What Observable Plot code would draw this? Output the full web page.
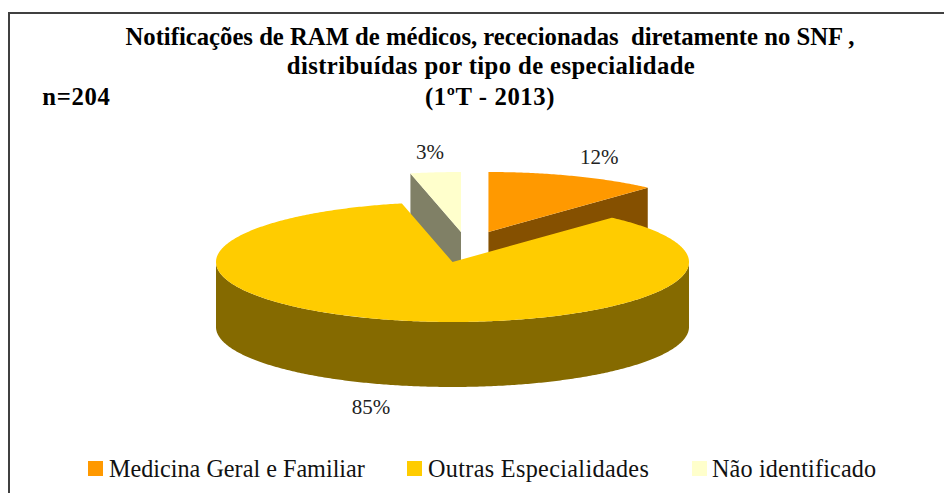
<!DOCTYPE html>
<html><head><meta charset="utf-8">
<script src="https://cdn.jsdelivr.net/npm/d3@7"></script>
<script src="https://cdn.jsdelivr.net/npm/@observablehq/plot@0.6"></script>
<style>
html,body{margin:0;padding:0;background:#fff;overflow:hidden}
#page{position:relative;width:944px;height:493px;overflow:hidden;font-family:"Liberation Serif",serif;color:#000}
#frame{position:absolute;left:8px;top:12px;width:940px;height:490px;border:2px solid #404040;box-sizing:border-box}
#chart{position:absolute;left:0;top:0}
.t{position:absolute;white-space:pre;font-weight:bold;font-size:24.7px;line-height:28px;transform:translateX(-50%)}
#leg{position:absolute;left:0;top:0}
.sw{position:absolute;width:15px;height:15px;top:461px}
.lb{position:absolute;top:456px;font-size:24.2px;line-height:26px;white-space:pre;color:#111}
</style></head><body>
<div id="page">
<div id="frame"></div>
<div id="chart"></div>
<div class="t" style="left:490px;top:23px">Notificações de RAM de médicos, rececionadas  diretamente no SNF ,</div>
<div class="t" style="left:491px;top:52px;letter-spacing:0.4px">distribuídas por tipo de especialidade</div>
<div class="t" style="left:490px;top:83px;letter-spacing:0.6px">(1ºT - 2013)</div>
<div class="t" style="left:76.5px;top:83px;letter-spacing:0.7px">n=204</div>
<div id="leg"></div>
</div>
<script>
// Data
const categories = ["Medicina Geral e Familiar", "Outras Especialidades", "Não identificado"];
const counts = [24, 173, 7];
const topColors = ["#FF9900", "#FFCC00", "#FFFFCC"];
const sideColors = ["#855000", "#856A00", "#808066"];

// Projection settings of the tilted pie, in units of the pie radius
const explodeX = [0.152, 0, 0.036];
const explodeY = [0.5, 0, 0.5];
const labelX = [0.62, -0.345, -0.095];
const labelY = [1.75, -2.42, 1.83];
const depth = 65 / 60;
const drawOrder = [2, 0, 1];

const total = d3.sum(counts);
const arcs = d3.pie().sort(null)(counts);
const pt = (i, a, r = 1, z = 0) => ({
  x: explodeX[i] + r * Math.sin(a),
  y: explodeY[i] + r * Math.cos(a) - z
});
function arcPoints(i, a0, a1, z = 0) {
  const n = Math.max(2, Math.ceil(Math.abs(a1 - a0) / 0.01));
  return d3.range(n + 1).map(k => pt(i, a0 + (a1 - a0) * k / n, 1, z));
}
const faces = [];
let id = 0;
function add(points, fill) {
  const z = id++;
  for (const p of points) faces.push({...p, z, fill});
}
for (const i of drawOrder) {
  const {startAngle: s, endAngle: e} = arcs[i];
  // radial cut faces turned towards the viewer
  const radial = (a) => add(
    [pt(i, a, 0), pt(i, a, 1), pt(i, a, 1, depth), pt(i, a, 0, depth)], sideColors[i]);
  if (e > 0 && e < Math.PI) radial(e);
  if (s > Math.PI && s < 2 * Math.PI) radial(s);
  // outer wall on the front half of the rim
  const w0 = Math.max(s, Math.PI / 2), w1 = Math.min(e, 3 * Math.PI / 2);
  if (w1 > w0) add([...arcPoints(i, w0, w1), ...arcPoints(i, w1, w0, depth)], sideColors[i]);
  // top surface
  add([pt(i, s, 0), ...arcPoints(i, s, e)], topColors[i]);
}
const labels = categories.map((c, i) => ({
  x: labelX[i], y: labelY[i], text: Math.round(100 * counts[i] / total) + "%"
}));

const svg = Plot.plot({
  width: 944, height: 493,
  margin: 0,
  x: {domain: [-1, 1], range: [215.5, 688.5], axis: null},
  y: {domain: [-1, 1], range: [321.5, 201.5], axis: null},
  style: {background: "transparent"},
  marks: [
    Plot.line(faces, {x: "x", y: "y", z: "z", fill: "fill", stroke: "none", curve: "linear"}),
    Plot.text(labels, {x: "x", y: "y", text: "text", fontSize: 21,
      fontFamily: "Liberation Serif", fill: "#222"})
  ]
});
document.getElementById("chart").append(svg);

const swatchX = [88, 407, 692], textX = [109, 428, 712], spacing = [0, 0.33, 0.15];
const leg = document.getElementById("leg");
categories.forEach((c, i) => {
  const s = document.createElement("div");
  s.className = "sw"; s.style.left = swatchX[i] + "px"; s.style.background = topColors[i];
  const t = document.createElement("div");
  t.className = "lb"; t.style.left = textX[i] + "px"; t.style.letterSpacing = spacing[i] + "px"; t.textContent = c;
  leg.append(s, t);
});
</script>
</body></html>
